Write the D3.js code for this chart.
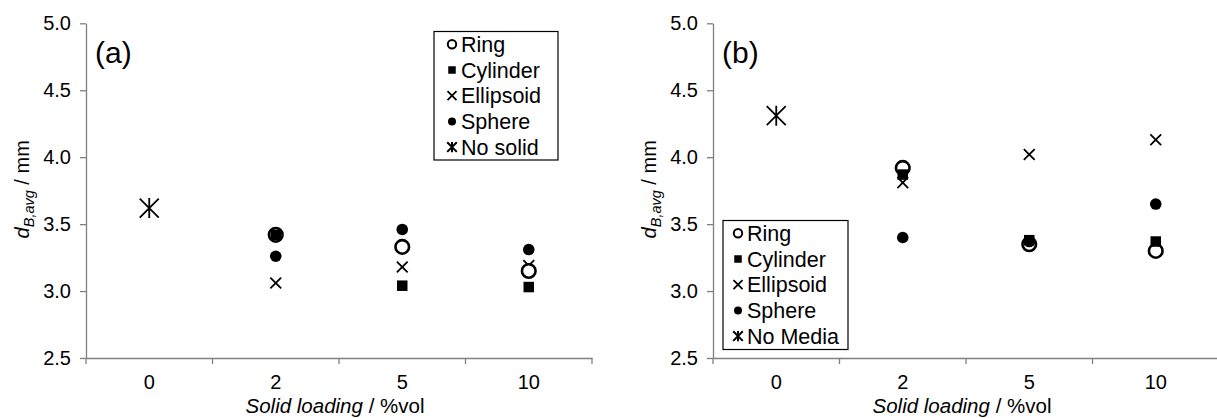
<!DOCTYPE html>
<html><head><meta charset="utf-8">
<script src="https://cdn.jsdelivr.net/npm/d3@7"></script>
<style>
body{margin:0;background:#fff;}
text{font-family:Arial,"Liberation Sans",sans-serif;}
</style></head>
<body><svg id="c" width="1217" height="418"></svg>
<script>
const categories = ["0", "2", "5", "10"];
const yTicks = [2.5, 3.0, 3.5, 4.0, 4.5, 5.0];
const seriesNames = ["Ring", "Cylinder", "Ellipsoid", "Sphere"];
// panel (a)
const ringA      = [null, 3.42, 3.33, 3.15];
const cylinderA  = [null, 3.42, 3.04, 3.03];
const ellipsoidA = [null, 3.06, 3.18, 3.19];
const sphereA    = [null, 3.26, 3.46, 3.31];
const noSolidA   = [3.62, null, null, null];
// panel (b)
const ringB      = [null, 3.92, 3.35, 3.30];
const cylinderB  = [null, 3.87, 3.38, 3.37];
const ellipsoidB = [null, 3.81, 4.02, 4.13];
const sphereB    = [null, 3.40, 3.37, 3.65];
const noMediaB   = [4.31, null, null, null];

const svg = d3.select("#c");
const AX = "#7f7f7f";
const FONT = "Arial, 'Liberation Sans', sans-serif";

function markerPath(type, s) {
  const p = d3.path();
  p.moveTo(-s, -s); p.lineTo(s, s); p.moveTo(-s, s); p.lineTo(s, -s);
  if (type === "star") { p.moveTo(0, -s * 1.05); p.lineTo(0, s * 1.05); }
  return p.toString();
}

function drawMarker(g, type, x, y, big) {
  if (type === "ring") {
    g.append("circle").attr("cx", x).attr("cy", y).attr("r", big ? 6.8 : 4.2)
      .attr("fill", "#fff").attr("stroke", "#000").attr("stroke-width", big ? 2.6 : 2);
  } else if (type === "square") {
    const s = big ? 10.5 : 7.5;
    g.append("rect").attr("x", x - s / 2).attr("y", y - s / 2).attr("width", s).attr("height", s).attr("fill", "#000");
  } else if (type === "dot") {
    g.append("circle").attr("cx", x).attr("cy", y).attr("r", big ? 5.8 : 4).attr("fill", "#000");
  } else if (type === "x") {
    g.append("path").attr("transform", `translate(${x},${y})`).attr("d", markerPath("x", big ? 5.4 : 4.5))
      .attr("stroke", "#000").attr("stroke-width", 1.8).attr("fill", "none");
  } else if (type === "star") {
    g.append("path").attr("transform", `translate(${x},${y})`).attr("d", markerPath("star", big ? 9.5 : 4.8))
      .attr("stroke", "#000").attr("stroke-width", big ? 1.8 : 2).attr("fill", "none");
  }
}

function panel(cfg) {
  const x = d3.scaleBand().domain(categories).range([cfg.x0, cfg.x0 + 506]);
  const y = d3.scaleLinear().domain([2.5, 5.0]).range([358, 23.3]);
  const g = svg.append("g");

  // y axis
  const ya = g.append("g").attr("transform", `translate(${cfg.x0},0)`)
    .call(d3.axisLeft(y).tickValues(yTicks).tickFormat(d3.format(".1f")).tickSize(6).tickSizeOuter(0).tickPadding(9));
  ya.select(".domain").attr("stroke", AX).attr("stroke-width", 1.3);
  ya.selectAll(".tick line").attr("stroke", AX).attr("stroke-width", 1.3);
  ya.selectAll(".tick text").attr("font-size", 20).attr("fill", "#000").attr("font-family", FONT);

  // x axis
  const xa = g.append("g").attr("transform", `translate(0,358)`)
    .call(d3.axisBottom(x).tickSize(0).tickSizeOuter(0).tickPadding(17));
  xa.select(".domain").attr("stroke", AX).attr("stroke-width", 1.3);
  xa.selectAll(".tick text").attr("font-size", 20).attr("fill", "#000").attr("font-family", FONT);
  const bounds = categories.map(c => x(c)).concat([x.range()[1]]);
  xa.selectAll(".bt").data(bounds).join("line").attr("class", "bt")
    .attr("x1", d => d).attr("x2", d => d).attr("y1", 0).attr("y2", 6)
    .attr("stroke", AX).attr("stroke-width", 1.3);

  // axis titles
  const xt = g.append("text").attr("x", cfg.x0 + 249).attr("y", 413).attr("text-anchor", "middle")
    .attr("font-size", 20.5).attr("fill", "#000");
  xt.append("tspan").attr("font-style", "italic").text("Solid loading");
  xt.append("tspan").text(" / %vol");

  const yt = g.append("text").attr("transform", `translate(${cfg.x0 - 57},${y(3.76)}) rotate(-90)`)
    .attr("text-anchor", "middle").attr("font-size", 20).attr("fill", "#000");
  yt.append("tspan").attr("font-style", "italic").text("d");
  yt.append("tspan").attr("font-style", "italic").attr("font-size", 14.5).attr("dy", 5).text("B,avg");
  yt.append("tspan").attr("dy", -5).text(" / mm");

  // panel label
  g.append("text").attr("x", cfg.x0 + 9).attr("y", 63).attr("font-family", "'Liberation Serif','Times New Roman',serif")
    .attr("font-size", 30).attr("fill", "#000").text(cfg.label);

  // data (draw order: ellipsoid, ring, cylinder, sphere, none)
  const order = [["x", cfg.ellipsoid], ["ring", cfg.ring], ["square", cfg.cylinder], ["dot", cfg.sphere], ["star", cfg.none]];
  const dg = g.append("g");
  order.forEach(([t, arr]) => {
    arr.forEach((v, i) => {
      if (v == null) return;
      drawMarker(dg, t, x(categories[i]) + x.bandwidth() / 2, y(v), true);
    });
  });

  // legend
  const L = cfg.legend;
  const lg = g.append("g");
  lg.append("rect").attr("x", L.x).attr("y", L.y).attr("width", L.w).attr("height", L.h)
    .attr("fill", "#fff").attr("stroke", "#000").attr("stroke-width", 1.2);
  const items = [["ring", seriesNames[0]], ["square", seriesNames[1]], ["x", seriesNames[2]], ["dot", seriesNames[3]], ["star", cfg.noneName]];
  items.forEach(([t, name], i) => {
    const cy = L.y + 12.8 + i * 25.7;
    drawMarker(lg, t, L.x + L.mx, cy, false);
    lg.append("text").attr("x", L.x + L.tx).attr("y", cy + 7.5).attr("font-size", 21.5).attr("fill", "#000").text(name);
  });
}

panel({ x0: 86, label: "(a)", ring: ringA, cylinder: cylinderA, ellipsoid: ellipsoidA, sphere: sphereA, none: noSolidA,
  noneName: "No solid", legend: { x: 434, y: 31.5, w: 124, h: 128.5, mx: 18, tx: 27 } });
panel({ x0: 713, label: "(b)", ring: ringB, cylinder: cylinderB, ellipsoid: ellipsoidB, sphere: sphereB, none: noMediaB,
  noneName: "No Media", legend: { x: 723, y: 220.5, w: 125, h: 129, mx: 15, tx: 24 } });
</script></body></html>
